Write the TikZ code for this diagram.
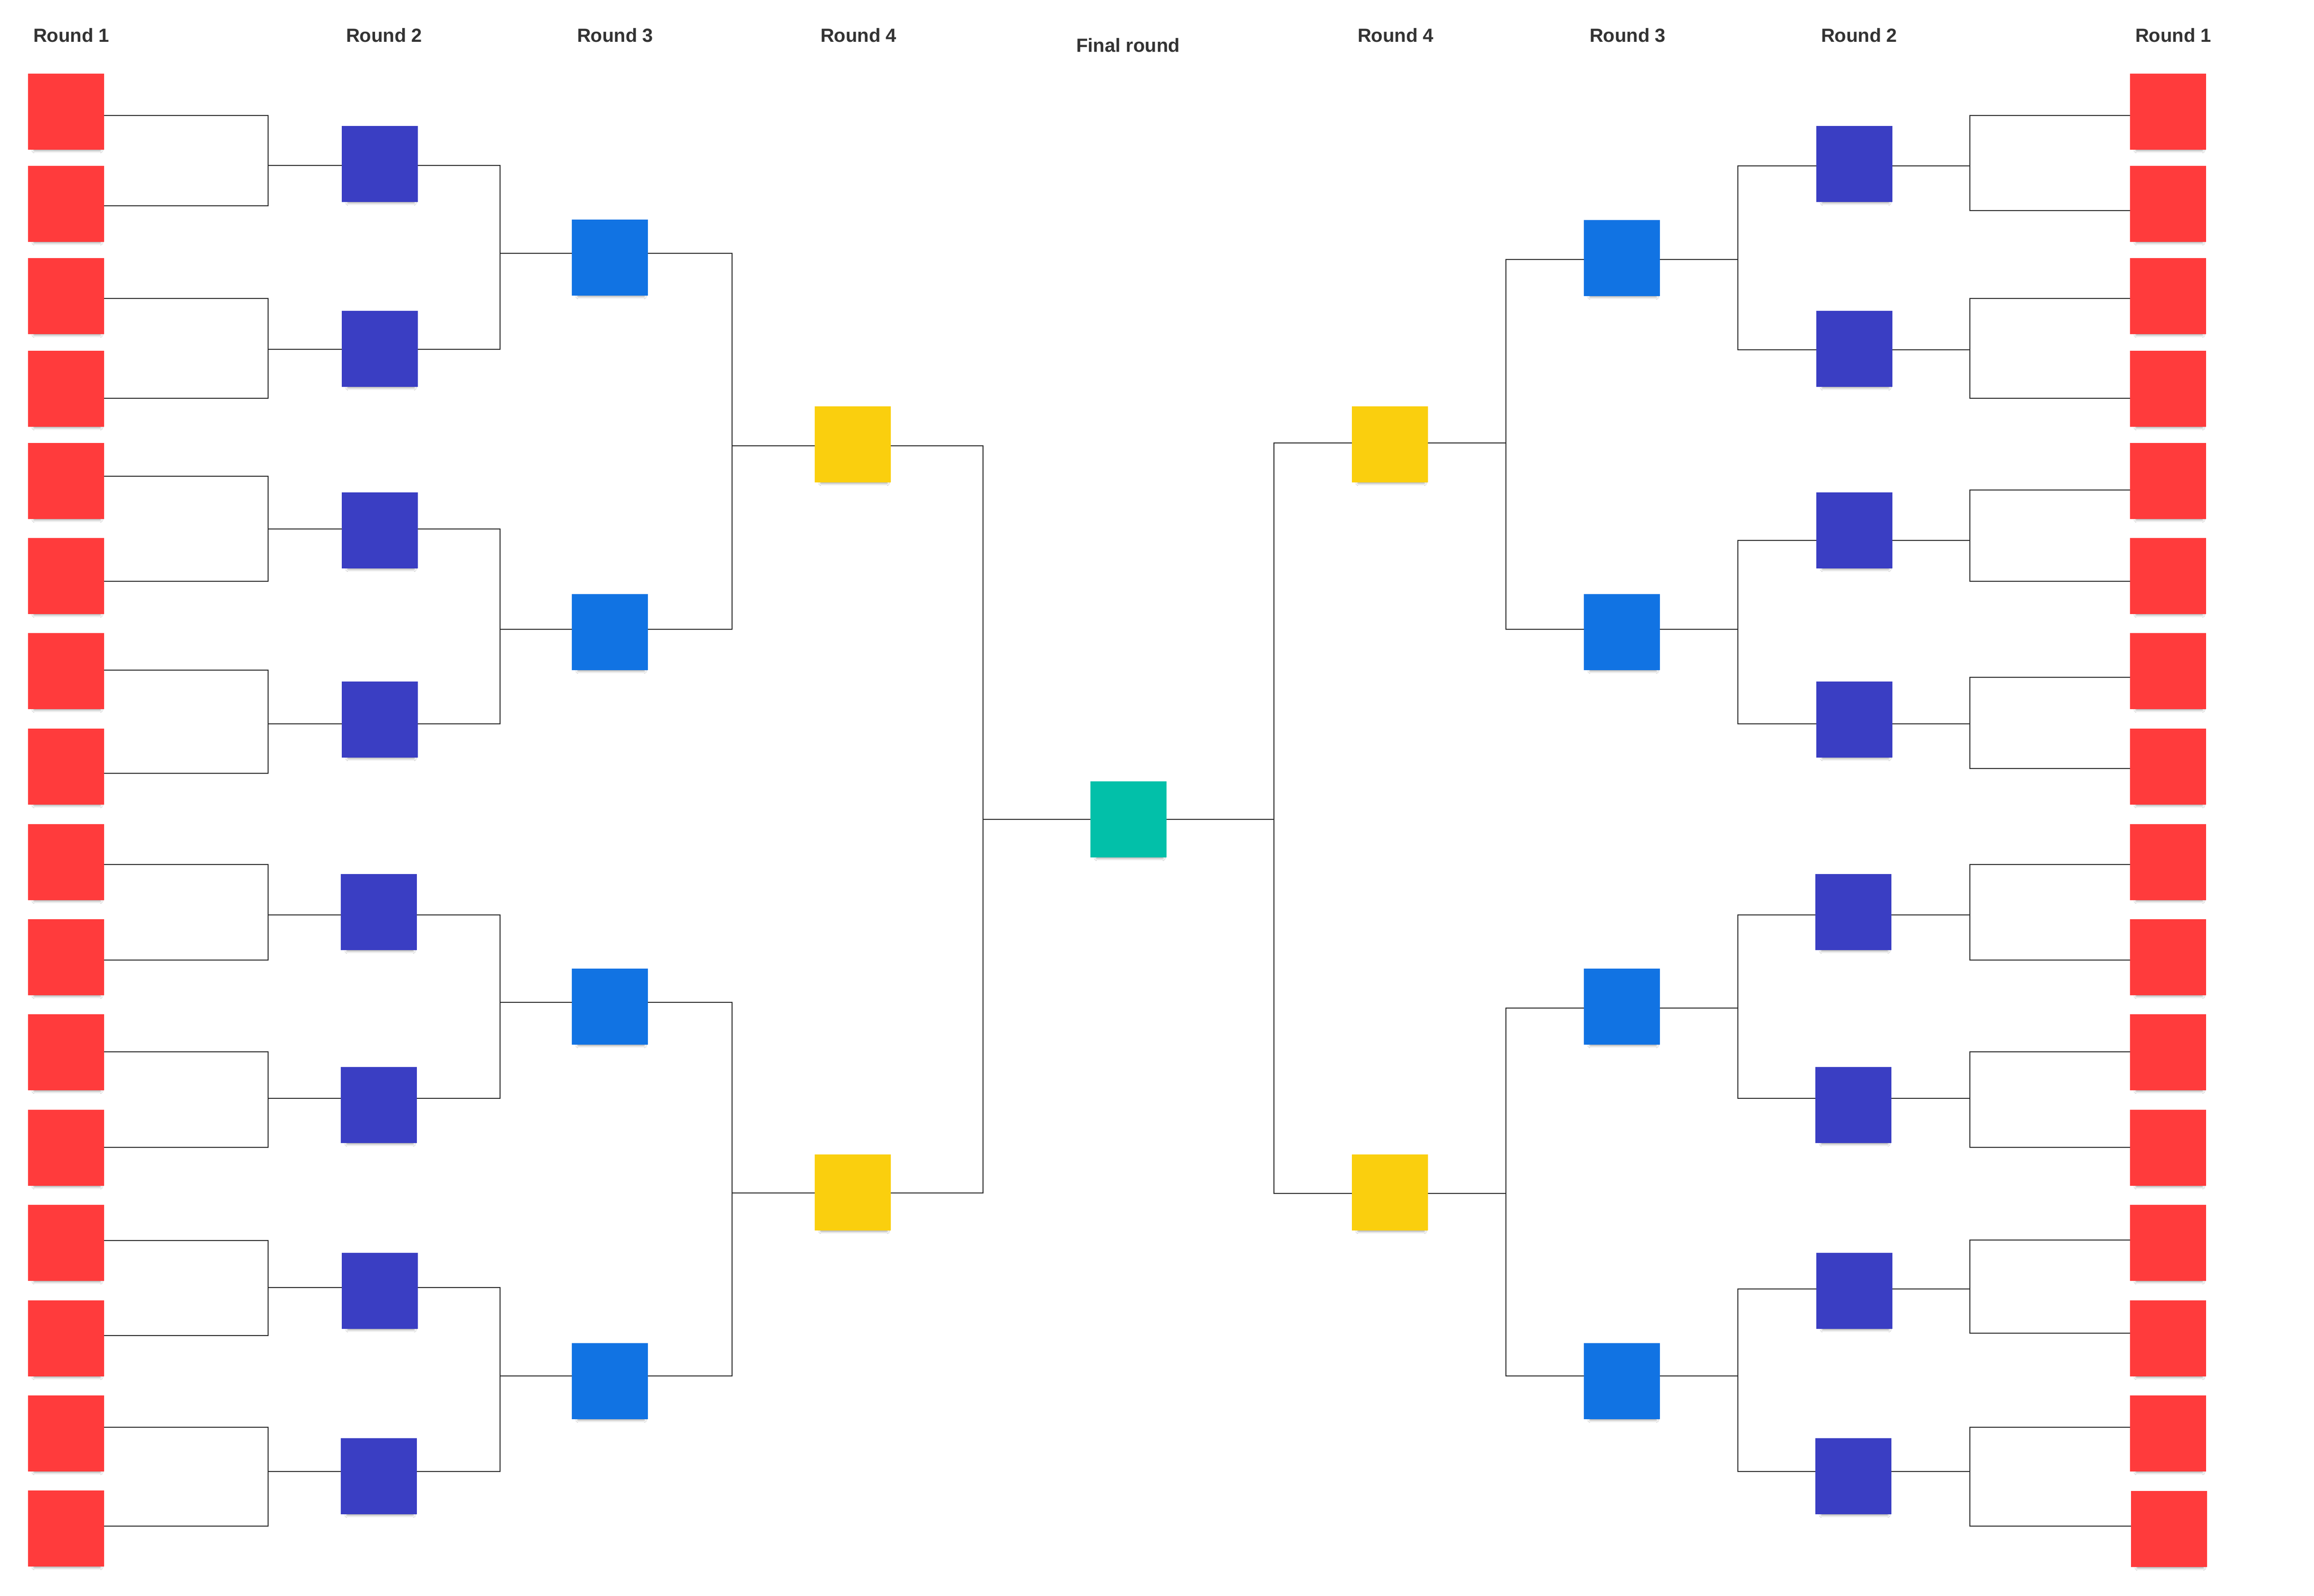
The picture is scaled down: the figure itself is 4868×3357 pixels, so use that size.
\documentclass[tikz,border=0pt]{standalone}
\usepackage{fontspec}
\setmainfont{Liberation Sans}
\usetikzlibrary{shadows.blur}
\definecolor{cRone}{HTML}{FF3B3C}
\definecolor{cRtwo}{HTML}{3A3EC3}
\definecolor{cRthree}{HTML}{1173E3}
\definecolor{cRfour}{HTML}{FACF0E}
\definecolor{cFinal}{HTML}{02C0A9}
\definecolor{cText}{HTML}{333333}
\definecolor{cLine}{HTML}{2B2B2B}
\tikzset{
  sq/.style={minimum size=160pt, inner sep=0pt, outer sep=0pt, draw=none,
    blur shadow={shadow xshift=3pt, shadow yshift=-14pt, shadow scale=0.86,
      shadow blur radius=7pt, shadow opacity=50}},
  conn/.style={draw=cLine, line width=2.1pt},
  title/.style={font=\bfseries\fontsize{40}{48}\selectfont, text=cText, anchor=base, inner sep=0pt}
}
\begin{document}
\begin{tikzpicture}[x=1pt,y=-1pt]
\fill[white] (0,0) rectangle (4868,3357);
\useasboundingbox (0,0) rectangle (4868,3357);

% titles
\node[title] (tL1) at (150,88) {Round 1};
\node[title] (tL2) at (808,88) {Round 2};
\node[title] (tL3) at (1294,88) {Round 3};
\node[title] (tL4) at (1806,88) {Round 4};
\node[title] (tF) at (2373,109) {Final round};
\node[title] (tR4) at (2936,88) {Round 4};
\node[title] (tR3) at (3424,88) {Round 3};
\node[title] (tR2) at (3911,88) {Round 2};
\node[title] (tR1) at (4572,88) {Round 1};

% ---------- nodes, left ----------
\foreach \i/\c in {1/235,2/429,3/623,4/818,5/1012,6/1212,7/1412,8/1613,9/1814,10/2014,11/2214,12/2415,13/2615,14/2816,15/3016,16/3216}
  {\node[sq, fill=cRone] (L\i) at (139,\c) {};}
\foreach \i/\x/\c in {1/799/345,2/799/734,3/799/1116,4/799/1514,5/797/1919,6/797/2325,7/799/2716,8/797/3106}
  {\node[sq, fill=cRtwo] (LQ\i) at (\x,\c) {};}
\foreach \i/\c in {1/542,2/1330,3/2118,4/2906}
  {\node[sq, fill=cRthree] (LT\i) at (1283,\c) {};}
\node[sq, fill=cRfour] (LF1) at (1794,935) {};
\node[sq, fill=cRfour] (LF2) at (1794,2509) {};
\node[sq, fill=cFinal] (fin) at (2374,1724) {};
% ---------- nodes, right ----------
\node[sq, fill=cRfour] (RF1) at (2924,935) {};
\node[sq, fill=cRfour] (RF2) at (2924,2509) {};
\foreach \i/\c in {1/543,2/1330,3/2118,4/2906}
  {\node[sq, fill=cRthree] (RT\i) at (3412,\c) {};}
\foreach \i/\x/\c in {1/3901/345,2/3901/734,3/3901/1116,4/3901/1514,5/3899/1919,6/3899/2325,7/3901/2716,8/3899/3106}
  {\node[sq, fill=cRtwo] (RQ\i) at (\x,\c) {};}
\foreach \i/\x/\c in {1/4561/235,2/4561/429,3/4561/623,4/4561/818,5/4561/1012,6/4561/1212,7/4561/1412,8/4561/1613,9/4561/1814,10/4561/2014,11/4561/2214,12/4561/2415,13/4561/2615,14/4561/2816,15/4561/3016,16/4563/3217}
  {\node[sq, fill=cRone] (R\i) at (\x,\c) {};}

% ---------- junction coordinates ----------
\foreach \k/\jy in {1/348,2/735,3/1113,4/1523,5/1925,6/2311,7/2709,8/3096}
  {\coordinate (LJ\k) at (564,\jy);}
\foreach \k/\jy in {1/533,2/1324,3/2109,4/2895}
  {\coordinate (LK\k) at (1052,\jy);}
\coordinate (LM1) at (1540,938);
\coordinate (LM2) at (1540,2510);
\coordinate (LX) at (2068,1724);
\coordinate (RX) at (2680,1724);
\coordinate (RM1) at (3168,932);
\coordinate (RM2) at (3168,2511);
\foreach \k/\jy in {1/546,2/1324,3/2121,4/2895}
  {\coordinate (RK\k) at (3656,\jy);}
\foreach \k/\jy in {1/349,2/736,3/1137,4/1523,5/1925,6/2311,7/2712,8/3096}
  {\coordinate (RJ\k) at (4144,\jy);}

% ---------- connectors, left ----------
\foreach \k/\a/\b/\sa/\sb in {1/1/2/-8/-4, 2/3/4/-5/-20, 3/5/6/10/-11, 4/7/8/2/-14, 5/9/10/-5/-6, 6/11/12/1/1, 7/13/14/5/6, 8/15/16/13/5}
  {\draw[conn] ([yshift=\sa]L\a.east) -| (LJ\k) |- ([yshift=\sb]L\b.east);
   \draw[conn] (LJ\k) -- (LQ\k.west |- LJ\k);}
\foreach \k/\a/\b in {1/1/2, 2/3/4, 3/5/6, 4/7/8}
  {\draw[conn] (LQ\a.east |- LJ\a) -| (LK\k) |- (LQ\b.east |- LJ\b);
   \draw[conn] (LK\k) -- (LT\k.west |- LK\k);}
\foreach \k/\a/\b in {1/1/2, 2/3/4}
  {\draw[conn] (LT\a.east |- LK\a) -| (LM\k) |- (LT\b.east |- LK\b);
   \draw[conn] (LM\k) -- (LF\k.west |- LM\k);}
\draw[conn] (LF1.east |- LM1) -| (LX) |- (LF2.east |- LM2);
\draw[conn] (LX) -- (fin.west |- LX);

% ---------- connectors, right ----------
\draw[conn] (fin.east |- RX) -- (RX);
\draw[conn] (RF1.west |- RM1) -| (RX) |- (RF2.west |- RM2);
\foreach \k/\a/\b in {1/1/2, 2/3/4}
  {\draw[conn] (RF\k.east |- RM\k) -- (RM\k);
   \draw[conn] (RT\a.west |- RK\a) -| (RM\k) |- (RT\b.west |- RK\b);}
\foreach \k/\a/\b in {1/1/2, 2/3/4, 3/5/6, 4/7/8}
  {\draw[conn] (RT\k.east |- RK\k) -- (RK\k);
   \draw[conn] (RQ\a.west |- RJ\a) -| (RK\k) |- (RQ\b.west |- RJ\b);}
\foreach \k/\a/\b/\sa/\sb in {1/1/2/-8/-14, 2/3/4/-5/-20, 3/5/6/-19/-11, 4/7/8/-13/-4, 5/9/10/-5/-6, 6/11/12/1/1, 7/13/14/6/11, 8/15/16/13/6}
  {\draw[conn] (RQ\k.east |- RJ\k) -- (RJ\k);
   \draw[conn] ([yshift=\sa]R\a.west) -| (RJ\k) |- ([yshift=\sb]R\b.west);}
\end{tikzpicture}
\end{document}
